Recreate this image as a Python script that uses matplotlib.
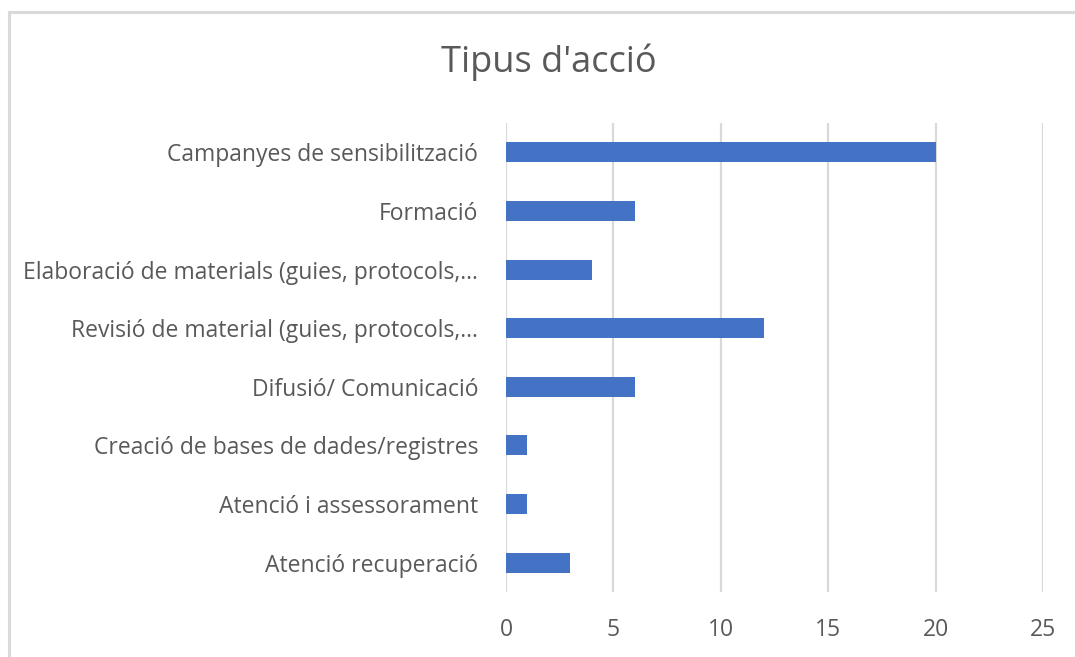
import matplotlib.pyplot as plt
from matplotlib.lines import Line2D

categories = [
    "Campanyes de sensibilització",
    "Formació",
    "Elaboració de materials (guies, protocols,…",
    "Revisió de material (guies, protocols,…",
    "Difusió/ Comunicació",
    "Creació de bases de dades/registres",
    "Atenció i assessorament",
    "Atenció recuperació",
]
values = [20, 6, 4, 12, 6, 1, 1, 3]
xticks = [0, 5, 10, 15, 20, 25]

plt.rcParams['font.family'] = ['Open Sans', 'DejaVu Sans']
text_color = '#595959'

W, H = 1075, 657
fig = plt.figure(figsize=(W / 100, H / 100), dpi=100)

# chart area border: only left and top are inside the picture
bx, by = 8.5 / W, 1 - 11.5 / H
fig.add_artist(Line2D([bx, bx], [0, by], transform=fig.transFigure,
                      color='#d9d9d9', linewidth=2.2))
fig.add_artist(Line2D([bx, 1], [by, by], transform=fig.transFigure,
                      color='#d9d9d9', linewidth=2.2))

ax = fig.add_axes([506 / W, 1 - 592 / H, (1043 - 506) / W, (592 - 123) / H])

y_pos = list(range(len(categories)))
ax.barh(y_pos, values, height=0.34, color='#4472C4', zorder=3)
ax.set_ylim(len(categories) - 0.5, -0.5)
ax.set_xlim(0, 25)
ax.set_xticks(xticks)
ax.set_yticks(y_pos)
ax.set_yticklabels(categories)
ax.grid(axis='x', color='#d9d9d9', linewidth=1.6, zorder=0)
for s in ax.spines.values():
    s.set_visible(False)
ax.tick_params(axis='both', length=0, labelsize=16.5, colors=text_color)
ax.tick_params(axis='y', pad=20)
ax.tick_params(axis='x', pad=19)

fig.text(549 / W, 1 - 62 / H, "Tipus d'acció", ha='center', va='center',
         fontsize=26, color=text_color)

fig.savefig('out.png', dpi=100)
